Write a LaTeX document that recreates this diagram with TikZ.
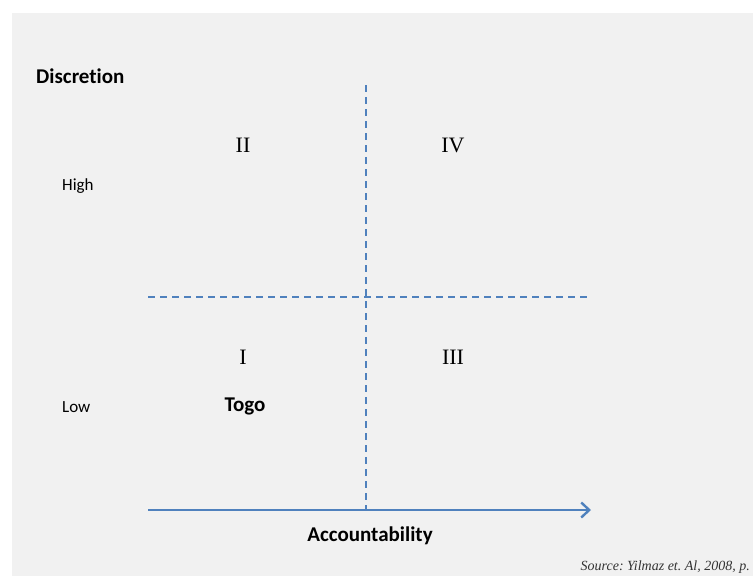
\documentclass[tikz,border=0pt]{standalone}
\usepackage{fontspec}
\setmainfont{Liberation Serif}
\newfontfamily\calib[Ligatures=NoCommon]{Carlito}
\usetikzlibrary{arrows.meta}
\definecolor{bg}{HTML}{F1F1F1}
\definecolor{lineblue}{HTML}{4F81BD}
\tikzset{
  axislab/.style={font=\calib\bfseries\fontsize{21}{25}\selectfont, inner sep=0pt},
  levellab/.style={font=\calib\fontsize{17}{20}\selectfont, inner sep=0pt, anchor=west},
  quadlab/.style={font=\fontsize{22}{26}\selectfont, inner sep=0pt},
  divider/.style={draw=lineblue, line width=1.8pt, dash pattern=on 7pt off 5pt},
  axisarrow/.style={draw=lineblue, line width=2.4pt, -{Straight Barb[length=8pt,width=15pt,line width=2.4pt]}}
}
\begin{document}
\frenchspacing
\begin{tikzpicture}[x=1pt,y=-1pt]
\useasboundingbox (0,0) rectangle (753,576);
\fill[white] (0,0) rectangle (753,576);
\fill[bg] (12,13) rectangle (753,576);
% axes
\coordinate (hl) at (148,297);
\coordinate (hr) at (587,297);
\coordinate (vt) at (366,85);
\coordinate (vb) at (366,510);
\coordinate (al) at (148,510);
\coordinate (ar) at (591,510);
\path[divider] (vt) -- (vb);
\path[divider] (hl) -- (hr);
\path[axisarrow] (al) -- (ar);
% labels
\node[axislab, anchor=west] (disc) at (36,76) {Discretion};
\node[axislab] (acc) at (370,536) {Accountability};
\node[levellab] (high) at (62,186) {High};
\node[levellab] (low) at (62,407) {Low};
\node[quadlab] (q2) at (243,145) {II};
\node[quadlab] (q4) at (453,145) {IV};
\node[quadlab] (q1) at (243,357) {I};
\node[quadlab] (q3) at (453,357) {III};
\node[axislab] (togo) at (245,406) {Togo};
\node[font=\itshape\fontsize{14}{16}\selectfont, inner sep=0pt, anchor=east, text=black!80] (src) at (750,567) {Source: Yilmaz et. Al, 2008, p.};
\end{tikzpicture}
\end{document}
